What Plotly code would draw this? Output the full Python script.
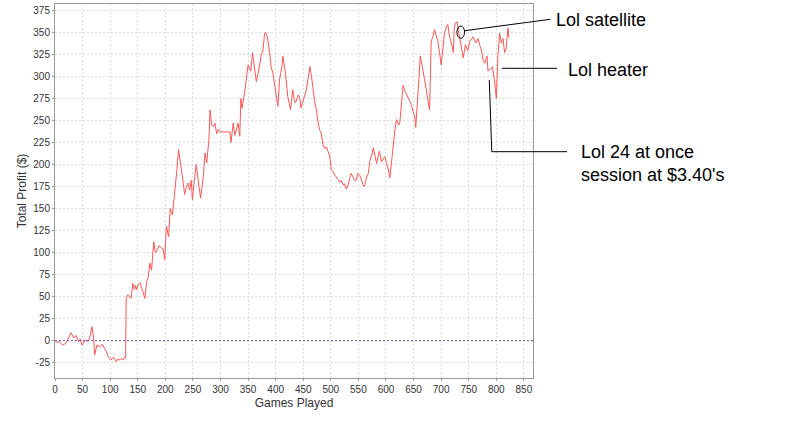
import plotly.graph_objects as go

games = [0, 4, 8, 14, 20, 25, 29, 34, 38, 43, 46, 49, 52, 55, 60, 64, 67, 70, 72, 76, 81, 86, 90, 93, 96,
         102, 105, 108, 111, 114, 117, 120, 123, 126, 128, 129, 132, 135, 138, 141, 144, 146, 148, 151, 154,
         157, 160, 163, 166, 169, 172, 175, 179, 182, 184, 187, 189, 193, 196, 199, 202, 206, 209, 213, 216,
         219, 221, 224, 228, 231, 235, 238, 241, 244, 247, 249, 252, 256, 261, 264, 269, 272, 275, 279, 281,
         284, 287, 290, 293, 296, 299, 305, 312, 317, 319, 323, 326, 329, 332, 335, 337, 339, 344, 350, 355,
         358, 361, 365, 370, 374, 377, 380, 382, 385, 389, 392, 395, 398, 400, 404, 407, 411, 413, 416, 418,
         422, 425, 427, 431, 434, 436, 441, 444, 446, 450, 455, 459, 462, 465, 467, 471, 474, 477, 480, 482,
         486, 489, 492, 495, 498, 501, 504, 507, 510, 513, 516, 519, 522, 525, 528, 531, 534, 537, 540, 543,
         546, 549, 552, 555, 558, 561, 565, 568, 571, 574, 577, 580, 583, 586, 588, 592, 595, 598, 601, 604,
         607, 610, 613, 616, 619, 623, 625, 628, 631, 634, 637, 640, 643, 646, 649, 652, 654, 658, 660, 662,
         665, 667, 670, 673, 676, 679, 682, 685, 688, 691, 694, 697, 700, 703, 706, 709, 712, 715, 718, 720,
         722, 724, 727, 729, 732, 735, 737, 740, 744, 748, 752, 755, 758, 763, 767, 770, 773, 776, 779, 783,
         785, 788, 791, 793, 797, 800, 803, 806, 809, 812, 815, 818, 821, 823]
profit = [0, -2, -1, -5, -3, 4, 9, 3, 6, -1, 2, -5, -2, 1, -1, 6, 16, 3, -16, -5, -7, -4, -9, -12, -18,
          -22, -19, -20, -24, -21, -22, -20, -22, -19, -20, 48, 52, 50, 48, 65, 58, 63, 58, 64, 66,
          60, 55, 48, 67, 72, 88, 80, 112, 100, 101, 106, 108, 105, 104, 92, 130, 118, 150, 143, 162,
          175, 194, 217, 202, 186, 166, 175, 179, 171, 182, 160, 179, 200, 175, 162, 187, 213, 202, 228, 262,
          245, 243, 247, 235, 240, 237, 237, 237, 237, 225, 247, 233, 240, 247, 232, 275, 264, 283, 313, 306,
          327, 313, 294, 309, 325, 330, 349, 350, 345, 327, 310, 304, 290, 283, 266, 296, 310, 323, 310, 302,
          277, 268, 262, 285, 272, 270, 279, 275, 264, 273, 283, 298, 311, 300, 289, 270, 262, 247, 239, 237,
          222, 218, 220, 214, 209, 194, 192, 188, 186, 183, 180, 182, 177, 178, 172, 176, 184, 190, 186, 182,
          182, 190, 188, 184, 177, 175, 186, 190, 205, 210, 219, 208, 201, 210, 215, 203, 206, 209, 201, 195,
          185, 205, 220, 238, 251, 245, 247, 268, 290, 284, 280, 276, 272, 268, 260, 255, 242, 274, 300, 323,
          315, 307, 296, 284, 272, 262, 340, 345, 353, 346, 340, 327, 313, 330, 349, 355, 359, 346, 340, 334,
          327, 357, 361, 362, 349, 340, 332, 321, 336, 329, 340, 342, 345, 338, 343, 335, 330, 319, 315, 323,
          306, 308, 309, 311, 294, 275, 325, 349, 338, 343, 327, 332, 355, 344]

x_ticks = list(range(0, 851, 50))
y_ticks = list(range(-25, 376, 25))

callout_texts = ["Lol satellite", "Lol heater", "Lol 24 at once<br>session at $3.40's"]

W, H = 786, 433
L, R, T, B = 55, 532.7, 4, 378


def px(x, y):
    return (x - L) / (R - L), (B - y) / (B - T)


fig = go.Figure()
fig.add_trace(go.Scatter(x=games, y=profit, mode="lines",
                         line=dict(color="#ff5555", width=1), hoverinfo="x+y"))

shapes = []
shapes.append(dict(type="line", xref="paper", yref="y", x0=0, x1=1, y0=0, y1=0,
                   line=dict(color="#6060c8", width=1, dash="2px,2px"), layer="above"))

ex0, ey0 = px(456.7, 38.3)
ex1, ey1 = px(464.3, 26)
shapes.append(dict(type="circle", xref="paper", yref="paper", x0=ex0, y0=ey0, x1=ex1, y1=ey1,
                   line=dict(color="black", width=1)))


def seg(a, b):
    x0, y0 = px(*a)
    x1, y1 = px(*b)
    return dict(type="line", xref="paper", yref="paper", x0=x0, y0=y0, x1=x1, y1=y1,
                line=dict(color="black", width=1))


shapes.append(seg((464.5, 30.7), (550, 19.3)))
shapes.append(seg((501.7, 68.3), (556.7, 68.3)))
shapes.append(seg((489, 80), (491.5, 151.7)))
shapes.append(seg((491.5, 151.7), (566.7, 151.7)))

annotations = []
for (tx, ty), txt in zip([(554, 19.5), (566, 70), (579, 163)], callout_texts):
    ax_, ay_ = px(tx, ty)
    annotations.append(dict(x=ax_, y=ay_, xref="paper", yref="paper", text=txt, showarrow=False,
                            xanchor="left", yanchor="middle", align="left",
                            font=dict(family="Liberation Sans, Arial", size=18, color="black")))

fig.update_layout(
    width=W, height=H,
    margin=dict(l=L, r=W - R, t=T, b=H - B, pad=0, autoexpand=False),
    paper_bgcolor="white", plot_bgcolor="white",
    showlegend=False,
    shapes=shapes, annotations=annotations,
    font=dict(family="Liberation Sans, Arial", size=10, color="#333333"),
)
fig.update_xaxes(range=[0, 866.5], tickvals=x_ticks, ticktext=[str(v) for v in x_ticks],
                 showgrid=True, gridcolor="#dcdcdc", griddash="2px,2px", gridwidth=1,
                 showline=True, linecolor="#999999", mirror=True, linewidth=1,
                 ticks="outside", ticklen=2, tickcolor="#999999", zeroline=False, automargin=False,
                 title=dict(text="Games Played", font=dict(size=12, color="#333333"), standoff=4),
                 tickfont=dict(size=10, color="#333333"))
fig.update_yaxes(range=[-42.4, 382.2], tickvals=y_ticks, ticktext=[str(v) for v in y_ticks],
                 showgrid=True, gridcolor="#dcdcdc", griddash="2px,2px", gridwidth=1,
                 showline=True, linecolor="#999999", mirror=True, linewidth=1,
                 ticks="outside", ticklen=2, tickcolor="#999999", zeroline=False, automargin=False,
                 title=dict(text="Total Profit ($)", font=dict(size=12, color="#333333"), standoff=4),
                 tickfont=dict(size=10, color="#333333"))

fig.write_html("out.html", config={"displayModeBar": False},
               post_script="document.body.style.margin='0';document.body.style.padding='0';")
